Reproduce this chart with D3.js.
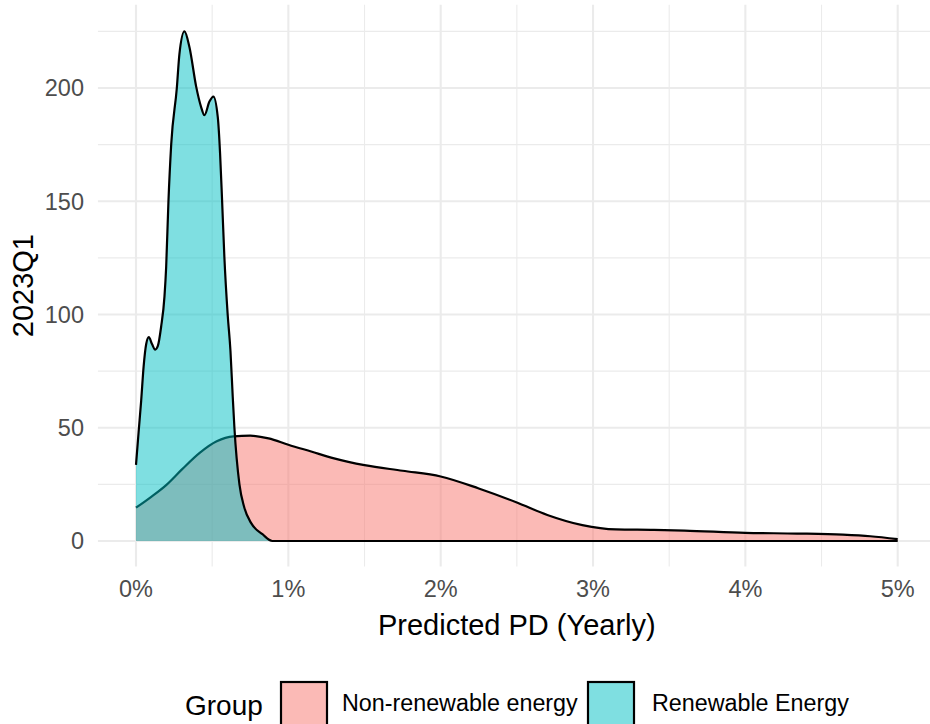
<!DOCTYPE html>
<html><head><meta charset="utf-8">
<script src="https://cdn.jsdelivr.net/npm/d3@7"></script>
<style>body{margin:0;background:#fff} text{font-family:"Liberation Sans",Arial,sans-serif}</style>
</head><body><svg id="c" width="930" height="724"></svg>
<script>
// Predicted PD (%) and density values
const nonRenX = [0, 0.1, 0.2, 0.3, 0.42, 0.53, 0.64, 0.75, 0.87, 1.0, 1.15, 1.3, 1.5, 1.75, 2.0, 2.25, 2.5, 2.7, 2.93, 3.15, 3.4, 3.6, 4.0, 4.34, 4.64, 4.82, 5.0];
const nonRenY = [14.7, 19.5, 24.8, 31.5, 39, 44, 46.2, 46.5, 45.3, 42.5, 39.5, 36.5, 33.5, 31, 28.5, 23.2, 17, 11.5, 7, 5.1, 4.9, 4.6, 3.6, 3.3, 2.8, 2.1, 0.8];
const renX = [0, 0.017, 0.034, 0.05, 0.067, 0.084, 0.105, 0.126, 0.143, 0.165, 0.187, 0.198, 0.213, 0.231, 0.268, 0.285, 0.318, 0.351, 0.395, 0.427, 0.449, 0.482, 0.508, 0.537, 0.552, 0.565, 0.58, 0.602, 0.62, 0.635, 0.646, 0.679, 0.71, 0.755, 0.83, 0.895, 1.0, 5.0];
const renY = [33.6, 48, 62, 77, 87, 90, 87, 84.5, 86, 94.6, 108, 121, 150, 175, 200, 215, 225, 218, 200.6, 191.7, 188, 194, 196.2, 187, 171, 150.5, 125.5, 99.8, 84, 63.7, 50, 25, 15, 8, 3, 0, 0, 0];
const xTicks = [0, 1, 2, 3, 4, 5];
const xTickLabels = ["0%", "1%", "2%", "3%", "4%", "5%"];
const xMinor = [0.5, 1.5, 2.5, 3.5, 4.5];
const yTicks = [0, 50, 100, 150, 200];
const yMinor = [25, 75, 125, 175, 225];
const groups = ["Non-renewable energy", "Renewable Energy"];
const colors = ["#F8766D", "#00BFC4"];
const xTitle = "Predicted PD (Yearly)";
const yTitle = "2023Q1";
const legendTitle = "Group";

const svg = d3.select("#c");
const x = d3.scaleLinear().domain([0, 5]).range([136, 897.7]);
const y = d3.scaleLinear().domain([0, 200]).range([541, 88]);
const xLo = x(-0.25), xHi = x(5.25), yLo = y(-11.3), yHi = y(236.8);

const grid = svg.append("g");
grid.selectAll(".ymn").data(yMinor).enter().append("line")
  .attr("x1", xLo).attr("x2", xHi).attr("y1", d => y(d)).attr("y2", d => y(d))
  .attr("stroke", "#EBEBEB").attr("stroke-width", 1.1);
grid.selectAll(".xmn").data(xMinor).enter().append("line")
  .attr("y1", yLo).attr("y2", yHi).attr("x1", d => x(d)).attr("x2", d => x(d))
  .attr("stroke", "#EBEBEB").attr("stroke-width", 1.1);
grid.selectAll(".ymj").data(yTicks).enter().append("line")
  .attr("x1", xLo).attr("x2", xHi).attr("y1", d => y(d)).attr("y2", d => y(d))
  .attr("stroke", "#EBEBEB").attr("stroke-width", 2.1);
grid.selectAll(".xmj").data(xTicks).enter().append("line")
  .attr("y1", yLo).attr("y2", yHi).attr("x1", d => x(d)).attr("x2", d => x(d))
  .attr("stroke", "#EBEBEB").attr("stroke-width", 2.1);

const area = d3.area().x(d => x(d[0])).y0(y(0)).y1(d => y(d[1])).curve(d3.curveMonotoneX);
const line = d3.line().x(d => x(d[0])).y(d => y(d[1])).curve(d3.curveMonotoneX);
const series = [d3.zip(nonRenX, nonRenY), d3.zip(renX, renY)];
series.forEach((s, i) => {
  svg.append("path").attr("d", area(s)).attr("fill", colors[i]).attr("fill-opacity", 0.5);
  svg.append("path").attr("d", line(s)).attr("fill", "none").attr("stroke", "#000")
    .attr("stroke-width", 2.2).attr("stroke-linejoin", "round");
});

// axis labels
svg.selectAll(".xl").data(xTicks).enter().append("text")
  .attr("x", d => x(d)).attr("y", 597).attr("text-anchor", "middle")
  .attr("font-size", 23.5).attr("fill", "#4D4D4D").text((d, i) => xTickLabels[i]);
svg.selectAll(".yl").data(yTicks).enter().append("text")
  .attr("x", 84).attr("y", d => y(d)).attr("dy", "0.36em").attr("text-anchor", "end")
  .attr("font-size", 23.5).attr("fill", "#4D4D4D").text(d => d);

svg.append("text").attr("x", (x(0) + x(5)) / 2).attr("y", 635).attr("text-anchor", "middle")
  .attr("font-size", 29).attr("fill", "#000").text(xTitle);
svg.append("text").attr("transform", `translate(33,${(yLo + yHi) / 2}) rotate(-90)`)
  .attr("text-anchor", "middle").attr("font-size", 29).attr("fill", "#000").text(yTitle);

// legend
const lg = svg.append("g");
lg.append("text").attr("x", 185).attr("y", 715).attr("font-size", 28).attr("fill", "#000").text(legendTitle);
const keyX = [281, 588], labX = [342, 652];
groups.forEach((g, i) => {
  lg.append("rect").attr("x", keyX[i]).attr("y", 682).attr("width", 46).attr("height", 46)
    .attr("fill", "#fff");
  lg.append("rect").attr("x", keyX[i]).attr("y", 682).attr("width", 46).attr("height", 46)
    .attr("fill", colors[i]).attr("fill-opacity", 0.5).attr("stroke", "#000").attr("stroke-width", 2.2);
  lg.append("text").attr("x", labX[i]).attr("y", 711).attr("font-size", 23.3).attr("fill", "#000").text(g);
});
</script></body></html>
